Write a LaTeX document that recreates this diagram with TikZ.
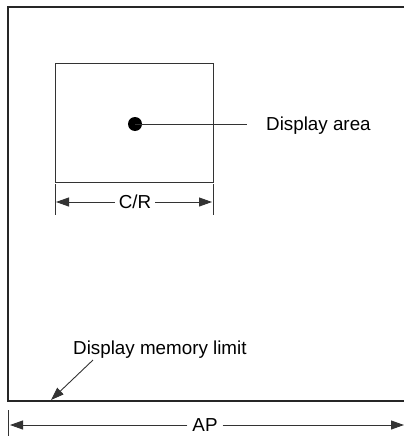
\documentclass[tikz,border=0pt]{standalone}
\usepackage{fontspec}
\setmainfont{Liberation Sans}
\usetikzlibrary{arrows.meta}
\begin{document}
\begin{tikzpicture}[x=1pt,y=-1pt,
  lbl/.style={font=\fontsize{18.8}{22}\selectfont, inner sep=0pt, text=black},
  ln/.style={line width=0.9pt, draw=black!80},
  arr/.style={ln, -{Triangle[length=13pt,width=9pt]}}]
\useasboundingbox (0,0) rectangle (404,436);
% outer memory area
\draw[line width=1.3pt, draw=black!85] (404,7) -- (8,7) -- (8,401) -- (404,401);
% display area box
\node[draw=black!80, line width=0.9pt, minimum width=158pt, minimum height=119pt, inner sep=0pt, anchor=north west] (box) at (55,63) {};
\fill (135,124) circle (7pt) coordinate (dot);
\node[lbl, anchor=west] (da) at (266,126) {Display area};
\coordinate (daend) at (247,124);
\draw[ln] (dot) -- (daend);
% C/R dimension
\coordinate (crl1) at (55,184); \coordinate (crl2) at (55,215);
\coordinate (crr1) at (213,184); \coordinate (crr2) at (213,215);
\draw[ln] (crl1) -- (crl2);
\draw[ln] (crr1) -- (crr2);
\node[lbl, fill=white, inner xsep=4pt] (cr) at (135,202) {C/R};
\coordinate (crL) at (56,202); \coordinate (crR) at (212,202);
\draw[arr] (cr.west) -- (crL);
\draw[arr] (cr.east) -- (crR);
% display memory limit
\node[lbl, anchor=west] (dml) at (73,350) {Display memory limit};
\coordinate (dmls) at (93,360); \coordinate (dmle) at (51,400);
\draw[arr] (dmls) -- (dmle);
% AP dimension
\coordinate (apt1) at (8,410); \coordinate (apt2) at (8,436);
\draw[ln] (apt1) -- (apt2);
\node[lbl, fill=white, inner xsep=5pt] (ap) at (205,425) {AP};
\coordinate (apL) at (10,425); \coordinate (apR) at (404,425);
\draw[arr] (ap.west) -- (apL);
\draw[arr] (ap.east) -- (apR);
\end{tikzpicture}
\end{document}
